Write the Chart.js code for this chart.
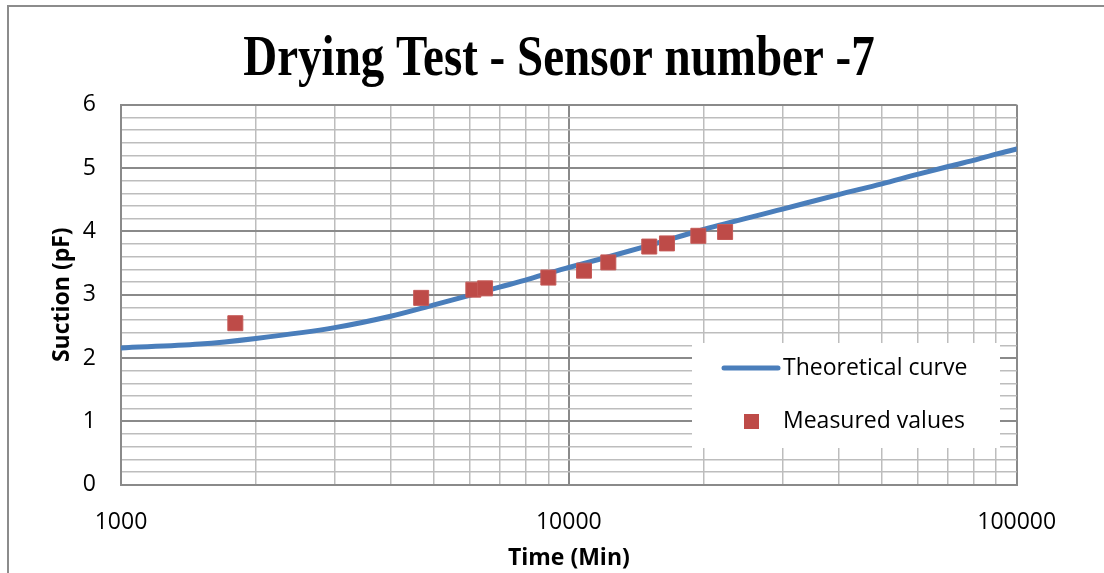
<!DOCTYPE html>
<html>
<head>
<meta charset="utf-8">
<script src="https://cdn.jsdelivr.net/npm/chart.js@4.4.1/dist/chart.umd.min.js"></script>
<style>
  html, body { margin: 0; padding: 0; background: #ffffff; overflow: hidden; }
  #wrap { position: relative; width: 1104px; height: 573px; }
</style>
</head>
<body>
<div id="wrap"><canvas id="c" width="1104" height="573"></canvas></div>
<script>
// Text
const titleText = 'Drying Test - Sensor number -7';
const xAxisTitle = 'Time (Min)';
const yAxisTitle = 'Suction (pF)';
const seriesNames = ['Theoretical curve', 'Measured values'];

// Theoretical curve (time in minutes, suction in pF)
const curveTime    = [1000, 1500, 2000, 3000, 4000, 5000, 6000, 7000, 8000, 9000, 10000, 12000, 15000, 20000, 30000, 40000, 50000, 60000, 70000, 80000, 90000, 100000];
const curveSuction = [2.16, 2.22, 2.31, 2.48, 2.66, 2.84, 2.99, 3.12, 3.23, 3.34, 3.43, 3.58, 3.77, 4.03, 4.35, 4.58, 4.75, 4.90, 5.02, 5.12, 5.22, 5.30];

// Measured values
const measuredTime    = [1800, 4680, 6120, 6500, 9000, 10810, 12250, 15120, 16560, 19460, 22330];
const measuredSuction = [2.55, 2.95, 3.08, 3.10, 3.27, 3.38, 3.51, 3.76, 3.81, 3.93, 3.99];

// Axis ticks
const xDecades = [1000, 10000, 100000];
const xMinorMultipliers = [2, 3, 4, 5, 6, 7, 8, 9];
const yLabels = [0, 1, 2, 3, 4, 5, 6];
const yMinorPerUnit = 5;

const BLUE = '#4a7ebb';
const RED = '#be4b48';
const MAJOR_GRID = '#8a8a8a';
const MINOR_GRID = '#bdbdbd';

const xGridValues = [];
xDecades.forEach((d, i) => {
  xGridValues.push(d);
  if (i < xDecades.length - 1) xMinorMultipliers.forEach(m => xGridValues.push(d * m));
});
const yGridValues = [];
for (let i = 0; i < yLabels.length - 1; i++) {
  for (let k = 0; k < yMinorPerUnit; k++) yGridValues.push(Math.round((yLabels[i] + k / yMinorPerUnit) * 10) / 10);
}
yGridValues.push(yLabels[yLabels.length - 1]);

const isDecade = v => xDecades.includes(v);
const isUnit = v => yLabels.includes(v);

const framePlugin = {
  id: 'frame',
  beforeDraw(chart) {
    const ctx = chart.ctx;
    ctx.save();
    ctx.fillStyle = '#ffffff';
    ctx.fillRect(0, 0, chart.width, chart.height);
    ctx.strokeStyle = '#8c8c8c';
    ctx.lineWidth = 2;
    ctx.beginPath();
    ctx.moveTo(8, chart.height + 5);
    ctx.lineTo(8, 6);
    ctx.lineTo(chart.width + 5, 6);
    ctx.stroke();
    ctx.restore();
  }
};

const textPlugin = {
  id: 'texts',
  afterDraw(chart) {
    const ctx = chart.ctx;
    const area = chart.chartArea;
    ctx.save();
    ctx.fillStyle = '#000000';
    // title (tall, narrow serif)
    ctx.save();
    ctx.translate(559, 75);
    ctx.scale(1, 1.2);
    ctx.font = 'bold 47px "Liberation Serif"';
    ctx.textAlign = 'center';
    ctx.textBaseline = 'alphabetic';
    ctx.fillText(titleText, 0, 0);
    ctx.restore();
    // axis titles
    ctx.font = 'bold 23px "Open Sans"';
    ctx.textAlign = 'center';
    ctx.textBaseline = 'middle';
    ctx.fillText(xAxisTitle, (area.left + area.right) / 2, 558);
    ctx.save();
    ctx.translate(62, (area.top + area.bottom) / 2);
    ctx.rotate(-Math.PI / 2);
    ctx.fillText(yAxisTitle, 0, 0);
    ctx.restore();

    // legend
    ctx.fillStyle = '#ffffff';
    ctx.fillRect(692, 343, 308, 105);
    ctx.strokeStyle = BLUE;
    ctx.lineWidth = 5;
    ctx.lineCap = 'round';
    ctx.beginPath();
    ctx.moveTo(724, 368);
    ctx.lineTo(778, 368);
    ctx.stroke();
    ctx.fillStyle = RED;
    ctx.fillRect(744, 414, 15, 15);
    ctx.fillStyle = '#000000';
    ctx.font = '23px "Open Sans"';
    ctx.textAlign = 'left';
    ctx.fillText(seriesNames[0], 783, 368);
    ctx.fillText(seriesNames[1], 783, 421);
    ctx.restore();
  }
};

new Chart(document.getElementById('c'), {
  data: {
    datasets: [
      {
        type: 'scatter',
        label: seriesNames[1],
        data: measuredTime.map((t, i) => ({ x: t, y: measuredSuction[i] })),
        pointStyle: 'rect',
        pointRadius: 10.6,
        pointBackgroundColor: RED,
        pointBorderColor: '#c55a57',
        pointBorderWidth: 1,
        order: 1
      },
      {
        type: 'line',
        label: seriesNames[0],
        data: curveTime.map((t, i) => ({ x: t, y: curveSuction[i] })),
        borderColor: BLUE,
        borderWidth: 5,
        pointRadius: 0,
        cubicInterpolationMode: 'monotone',
        borderCapStyle: 'round',
        fill: false,
        order: 2
      }
    ]
  },
  options: {
    responsive: false,
    animation: false,
    devicePixelRatio: 1,
    layout: { padding: { left: 0, top: 104.7, right: 87.3, bottom: 0 } },
    plugins: {
      legend: { display: false },
      title: { display: false },
      tooltip: { enabled: false }
    },
    scales: {
      x: {
        type: 'logarithmic',
        min: 1000,
        max: 100000,
        afterFit(scale) { scale.height = 88.3; },
        afterBuildTicks(scale) { scale.ticks = xGridValues.map(v => ({ value: v })); },
        ticks: {
          autoSkip: false,
          maxRotation: 0,
          padding: 24,
          color: '#000000',
          font: { family: '"Open Sans"', size: 23 },
          callback: v => (isDecade(v) ? String(v) : '')
        },
        grid: {
          drawTicks: false,
          color: c => (c.tick && isDecade(c.tick.value) ? MAJOR_GRID : MINOR_GRID),
          lineWidth: c => (c.tick && isDecade(c.tick.value) ? 2 : 1.5)
        },
        border: { display: true, color: MAJOR_GRID, width: 2 }
      },
      y: {
        type: 'linear',
        min: 0,
        max: 6,
        afterFit(scale) { scale.width = 121; },
        afterBuildTicks(scale) { scale.ticks = yGridValues.map(v => ({ value: v })); },
        ticks: {
          autoSkip: false,
          padding: 25,
          color: '#000000',
          font: { family: '"Open Sans"', size: 23 },
          callback: v => (isUnit(v) ? String(v) : '')
        },
        grid: {
          drawTicks: false,
          color: c => (c.tick && isUnit(c.tick.value) ? MAJOR_GRID : MINOR_GRID),
          lineWidth: c => (c.tick && isUnit(c.tick.value) ? 2 : 1.5)
        },
        border: { display: true, color: MAJOR_GRID, width: 2 }
      }
    }
  },
  plugins: [framePlugin, textPlugin]
});
</script>
</body>
</html>
